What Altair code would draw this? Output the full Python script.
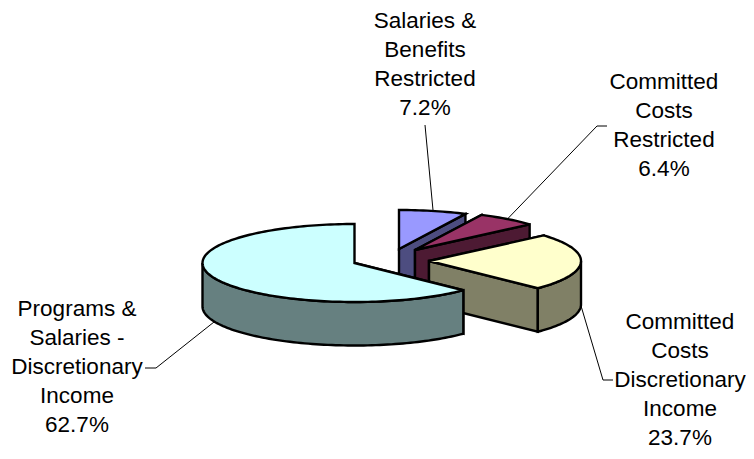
import math
import altair as alt

# --- chart values ---
categories = ["Salaries & Benefits Restricted", "Committed Costs Restricted",
              "Committed Costs Discretionary Income", "Programs & Salaries - Discretionary Income"]
percents = [7.2, 6.4, 23.7, 62.7]
top_colors = ["#9999FF", "#993366", "#FFFFCC", "#CCFFFF"]
side_colors = ["#4D4D80", "#4D1A33", "#808066", "#668080"]
label_lines = [["Salaries &", "Benefits", "Restricted", "7.2%"],
               ["Committed", "Costs", "Restricted", "6.4%"],
               ["Committed", "Costs", "Discretionary", "Income", "23.7%"],
               ["Programs &", "Salaries -", "Discretionary", "Income", "62.7%"]]

# --- layout (page pixels; the 8px page margin is removed below) ---
MARGIN = 8
RX, RY, DEPTH = 152, 39, 43.5
apexes = [(399, 249), (415, 250), (429, 261), (354.5, 263)]
label_pos = [(425, 21), (664, 82), (680, 322), (77, 309)]
LINE_STEP = 29
leader_elbows = [[(425, 125)], [(607, 126), (597, 126)], [(613, 380), (603, 380)], [(145, 368), (156, 368)]]
leader_on_wall = [False, False, True, True]


def P(x, y):
    return [x - MARGIN, y - MARGIN]


def rim(apex, deg, drop=0.0):
    t = math.radians(deg)
    return (apex[0] + RX * math.sin(t), apex[1] - RY * math.cos(t) + drop)


def arc(apex, a0, a1, drop=0.0):
    n = max(2, int(abs(a1 - a0) / 1.5))
    return [rim(apex, a0 + (a1 - a0) * i / n, drop) for i in range(n + 1)]


def poly(points, fill):
    ring = [P(*p) for p in points]
    ring.append(ring[0])
    return {"type": "Feature", "properties": {"fill": fill},
            "geometry": {"type": "Polygon", "coordinates": [ring]}}


features = []
leaders = []
start = 0.0
for pct, apex, top, side, elbow, on_wall in zip(percents, apexes, top_colors, side_colors,
                                                  leader_elbows, leader_on_wall):
    end = start + pct * 3.6
    mid = (start + end) / 2
    low = (apex[0], apex[1] + DEPTH)
    # cut faces, then the visible outer wall, then the top
    if start > 0:
        features.append(poly([apex, rim(apex, start), rim(apex, start, DEPTH), low], side))
    if end < 360:
        features.append(poly([apex, rim(apex, end), rim(apex, end, DEPTH), low], side))
    w0, w1 = max(start, 90), min(end, 270)
    if w1 > w0:
        features.append(poly(arc(apex, w0, w1) + arc(apex, w1, w0, DEPTH), side))
    features.append(poly([apex] + arc(apex, start, end), top))
    tip = rim(apex, mid, DEPTH if on_wall else 0.0)
    leaders.append({"type": "Feature", "properties": {},
                    "geometry": {"type": "LineString",
                                 "coordinates": [P(*p) for p in elbow + [tip]]}})
    start = end

rows = []
for lines, (cx, cy) in zip(label_lines, label_pos):
    for i, line in enumerate(lines):
        x, y = P(cx, cy + i * LINE_STEP)
        rows.append({"lon": x, "lat": y, "t": line})

proj = dict(type="identity", scale=1, translate=[0, 0])


def geo(feats):
    return alt.InlineData(values={"type": "FeatureCollection", "features": feats},
                          format=alt.DataFormat(property="features", type="json"))


pie = alt.Chart(geo(features)).mark_geoshape(stroke="black", strokeWidth=2.4, strokeJoin="miter").encode(
    fill=alt.Fill("properties.fill:N", scale=None, legend=None)
).project(**proj)

lead = alt.Chart(geo(leaders)).mark_geoshape(filled=False, stroke="black", strokeWidth=1).project(**proj)

text = alt.Chart(alt.Data(values=rows)).mark_text(
    font="Liberation Sans", fontSize=22.5, color="black", align="center", baseline="middle"
).encode(longitude="lon:Q", latitude="lat:Q", text="t:N").project(**proj)

chart = alt.layer(lead, pie, text).properties(
    width=738, height=443, padding=0, autosize=alt.AutoSizeParams(type="none"),
).configure_view(stroke=None)

chart.save("out.html", embed_options={"renderer": "svg", "actions": False})
